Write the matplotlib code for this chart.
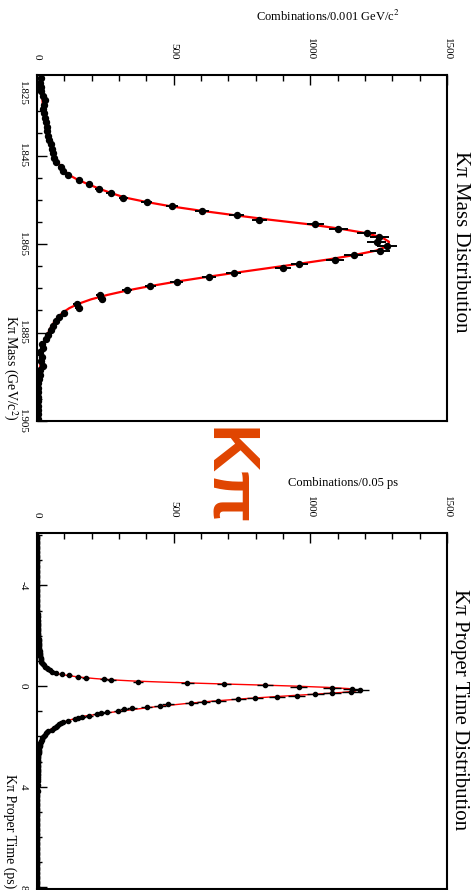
import matplotlib
matplotlib.use('Agg')
import matplotlib.pyplot as plt
import numpy as np
from matplotlib.ticker import MultipleLocator

plt.rcParams['font.family'] = ['Liberation Serif', 'DejaVu Serif']
plt.rcParams['mathtext.fontset'] = 'stix'

# --- K pi mass, 0.001 GeV/c^2 bins (first centre 1.8275) ---
mass_first = 1.8275
mass_bin = 0.001
mass_counts = [15, 12, 14, 16, 22, 30, 24, 22, 24, 28,
               33, 35, 38, 42, 44, 50, 55, 57, 63, 70,
               88, 95, 115, 155, 192, 228, 270, 316, 401, 493,
               603, 731, 814, 1018, 1103, 1207, 1253, 1243, 1280, 1255,
               1158, 1091, 960, 901, 719, 630, 511, 414, 328, 230,
               237, 145, 152, 100, 82, 70, 60, 52, 42, 33,
               18, 22, 12, 17, 14, 22, 12, 10, 7, 5,
               5, 4, 3, 3, 2, 3, 2, 2]
mass_fit = [14, 15, 16, 17, 18, 20, 21, 23, 25, 27,
            30, 33, 36, 40, 44, 49, 54, 60, 67, 76,
            88, 102, 120, 150, 188, 228, 272, 322, 400, 492,
            602, 725, 850, 990, 1105, 1200, 1262, 1288, 1282, 1240,
            1160, 1065, 955, 840, 725, 615, 510, 415, 330, 258,
            198, 152, 118, 94, 77, 64, 54, 45, 38, 32,
            27, 23, 19, 16, 14, 12, 10, 8, 7, 6,
            5, 4, 4, 3, 3, 3, 2, 2]
mass_ticks = [1.845, 1.865, 1.885, 1.905]
mass_tick_labels = ['1.845', '1.865', '1.885', '1.905']

# --- K pi proper time, 0.05 ps bins (first centre -5.975) ---
time_first = -5.975
time_bin = 0.05
time_counts = [0, 1, 0, 0, 1, 0, 0, 1, 0, 0, 0, 1, 0, 0, 1, 0, 0, 0, 1, 0,
               0, 1, 0, 0, 1, 0, 1, 0, 0, 1, 0, 0, 1, 0, 1, 0, 0, 1, 0, 1,
               1, 0, 1, 0, 1, 1, 0, 1, 0, 1, 1, 0, 1, 1, 0, 1, 1, 0, 1, 1,
               1, 1, 2, 1, 2, 2, 1, 2, 3, 2, 3, 3, 2, 3, 4, 3, 4, 4, 5, 5,
               5, 5, 6, 6, 6, 7, 7, 7, 8, 8, 9, 9, 10, 10, 11, 11, 12, 13, 14, 15,
               16, 20, 23, 26, 31, 36, 42, 48, 55, 68, 90, 118, 150, 178, 245, 272, 370, 550, 685, 835,
               958, 1078, 1152, 1182, 1150, 1078, 1018, 950, 877, 798, 737, 664, 610, 565, 481, 450, 401, 347, 320, 298,
               255, 235, 218, 190, 165, 151, 140, 112, 95, 88, 80, 74, 70, 64, 55, 40, 36, 33, 28, 24,
               22, 20, 18, 15, 13, 12, 11, 10, 9, 8, 8, 7, 6, 6, 5, 5, 4, 4, 4, 3,
               3, 3, 3, 2, 3, 2, 2, 3, 2, 2, 2, 1, 2, 2, 1, 2, 1, 1, 2, 1,
               1, 1, 1, 2, 1, 1, 0, 1, 1, 1, 0, 1, 1, 0, 1, 1, 0, 1, 0, 1,
               0, 1, 0, 1, 0, 0, 1, 0, 1, 0, 0, 1, 0, 0, 1, 0, 0, 0, 1, 0,
               0, 0, 1, 0, 0, 1, 0, 0, 0, 1, 0, 0, 0, 1, 0, 0, 0, 0, 1, 0,
               0, 0, 0, 1, 0, 0, 0, 0, 1, 0, 0, 0, 0, 1, 0, 0, 0, 0, 0, 1]
fit_time = [-6.0, -4.0, -3.0, -2.5, -2.0, -1.5, -1.2, -1.0, -0.9, -0.8, -0.7,
            -0.6, -0.55, -0.5, -0.45, -0.4, -0.35, -0.3, -0.25, -0.2, -0.15,
            -0.1, -0.05, 0.0, 0.05, 0.1, 0.15, 0.2, 0.25, 0.3, 0.35, 0.4,
            0.5, 0.6, 0.7, 0.8, 0.9, 1.0, 1.1, 1.2, 1.3, 1.4, 1.5, 1.6, 1.7,
            1.8, 1.9, 2.0, 2.1, 2.2, 2.5, 3.0, 3.5, 4.0, 5.0, 8.0]
fit_counts = [0.5, 0.5, 1, 2, 4, 7, 10, 15, 19, 26, 35,
              47, 57, 72, 95, 125, 162, 210, 270, 355, 480,
              630, 790, 940, 1060, 1140, 1170, 1165, 1120, 1050, 975, 900,
              760, 640, 540, 450, 375, 300, 235, 168, 135, 105, 85, 68, 52,
              40, 30, 22, 17, 14, 10, 5, 3, 2, 1, 0.5]
time_ticks = [-4, 0, 4, 8]
time_tick_labels = ['-4', '0', '4', '8']

count_ticks = [0, 500, 1000, 1500]

W, H = 472, 890
fig = plt.figure(figsize=(W / 100, H / 100), dpi=100)
ax1 = fig.add_axes([37 / W, 1 - 421 / H, 410 / W, 346 / H])
ax2 = fig.add_axes([37 / W, 1 - 889 / H, 410 / W, 356 / H])

mass_counts = np.array(mass_counts, dtype=float)
mass_x = mass_first + mass_bin * np.arange(len(mass_counts))
ax1.plot(mass_fit, mass_x, color='red', lw=1.6, zorder=2)
ax1.errorbar(mass_counts, mass_x, xerr=np.sqrt(mass_counts), yerr=mass_bin / 2,
             fmt='o', color='black', ms=4.3, elinewidth=1.4, capsize=0, zorder=3)
ax1.set_xlim(0, 1500)
ax1.set_ylim(1.905, 1.8268)

time_counts = np.array(time_counts, dtype=float)
time_x = time_first + time_bin * np.arange(len(time_counts))
ax2.plot(fit_counts, fit_time, color='red', lw=1.0, zorder=2)
ax2.errorbar(time_counts, time_x, xerr=np.sqrt(time_counts), yerr=time_bin / 2,
             fmt='o', color='black', ms=3.0, elinewidth=1.0, capsize=0, zorder=3)
ax2.set_xlim(0, 1500)
ax2.set_ylim(8.06, -6.08)

for ax in (ax1, ax2):
    for s in ax.spines.values():
        s.set_linewidth(1.5)
    ax.xaxis.tick_top()
    ax.set_xticks(count_ticks, labels=[str(v) for v in count_ticks])
    ax.xaxis.set_minor_locator(MultipleLocator(100))
    ax.tick_params(axis='x', which='both', direction='in', top=True, bottom=False,
                   labeltop=True, labelbottom=False, labelsize=8, pad=11, width=1)
    ax.tick_params(axis='x', which='major', length=7)
    ax.tick_params(axis='x', which='minor', length=4)
    ax.tick_params(axis='y', which='both', direction='in', left=True, right=False,
                   labelsize=8, pad=7, width=1)
    ax.tick_params(axis='y', which='major', length=7)
    ax.tick_params(axis='y', which='minor', length=3.5)

ax1.set_yticks(mass_ticks, labels=mass_tick_labels)
ax1.yaxis.set_minor_locator(MultipleLocator(0.005))
ax2.set_yticks(time_ticks, labels=time_tick_labels)
ax2.yaxis.set_minor_locator(MultipleLocator(1))

for ax in (ax1, ax2):
    for lab in ax.get_xticklabels():
        lab.set_rotation(-90)
    for lab in ax.get_yticklabels():
        lab.set_rotation(-90)
        lab.set_va('center')

ax1.annotate('1.825', xy=(0, 1), xycoords='axes fraction', xytext=(-7, -4),
             textcoords='offset points', rotation=-90, ha='right', va='top', fontsize=8)

# titles and axis labels
fig.text(460 / W, 1 - 242 / H, 'Kπ Mass Distribution', rotation=-90,
         ha='center', va='center', fontsize=15)
fig.text(460 / W, 1 - 710 / H, 'Kπ Proper Time Distribution', rotation=-90,
         ha='center', va='center', fontsize=15)
fig.text(400 / W, 1 - 16 / H, 'Combinations/0.001 GeV/c$^2$', ha='right', va='center', fontsize=9)
fig.text(398 / W, 1 - 483 / H, 'Combinations/0.05 ps', ha='right', va='center', fontsize=9)
fig.text(10 / W, 1 - 421 / H, 'Kπ Mass (GeV/c$^2$)', rotation=-90, ha='center', va='bottom', fontsize=10)
fig.text(10 / W, 1 - 888 / H, 'Kπ Proper Time (ps)', rotation=-90, ha='center', va='bottom', fontsize=10)

fig.text(226 / W, 1 - 477 / H, 'Kπ', rotation=-90, ha='center', va='center', color='#e04400',
         fontsize=48, fontweight='bold',
         family=['Liberation Sans Narrow', 'Liberation Sans', 'DejaVu Sans'])

fig.savefig('out.png', dpi=100, facecolor='white')
